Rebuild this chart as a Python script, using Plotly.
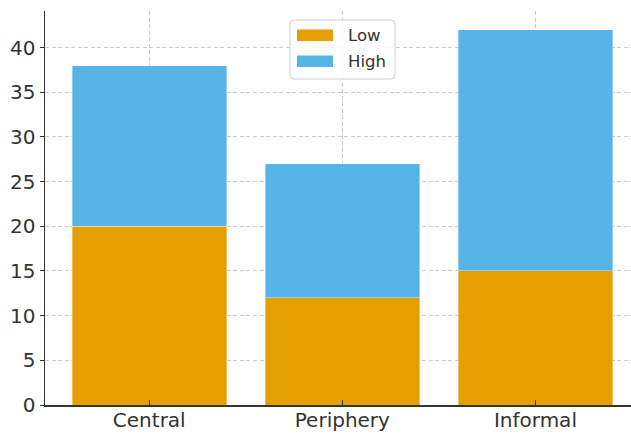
import plotly.graph_objects as go

categories = ["Central", "Periphery", "Informal"]
low_values = [20, 12, 15]
high_values = [18, 15, 27]
series_names = ["Low", "High"]
series_colors = ["#E69F00", "#56B4E9"]
y_ticks = [0, 5, 10, 15, 20, 25, 30, 35, 40]

W, H = 631, 434
ML, MR, MT, MB = 45, 0, 11, 29
PW, PH = W - ML - MR, H - MT - MB

def px_x(p):
    return (p - ML) / PW

def px_y(p):
    return (H - MB - p) / PH

fig = go.Figure()
for name, vals, col in zip(series_names, [low_values, high_values], series_colors):
    fig.add_trace(go.Bar(
        x=list(range(len(categories))), y=vals, name=name,
        marker=dict(color=col, line=dict(color="rgba(255,255,255,0.6)", width=0.6)),
        width=0.8, showlegend=False, hoverinfo="skip",
    ))

font_family = "DejaVu Sans"
grid_dash = "4px,2.5px"
fig.update_layout(
    width=W, height=H,
    margin=dict(l=ML, r=MR, t=MT, b=MB, autoexpand=False),
    barmode="stack",
    plot_bgcolor="white", paper_bgcolor="white",
    font=dict(family=font_family, color="#333333"),
    xaxis=dict(
        range=[-0.54, 2.495], automargin=False,
        tickmode="array", tickvals=list(range(len(categories))), ticktext=categories,
        tickfont=dict(size=20, color="#333333"), ticklabelstandoff=-4,
        showline=True, linecolor="#333333", linewidth=1.5,
        ticks="inside", ticklen=5, tickwidth=1, tickcolor="#333333",
        showgrid=True, gridcolor="#cccccc", griddash=grid_dash, gridwidth=1,
        layer="above traces", zeroline=False,
    ),
    yaxis=dict(
        range=[0, 44.1], automargin=False,
        tickmode="array", tickvals=y_ticks,
        tickfont=dict(size=20, color="#333333"),
        showline=True, linecolor="#333333", linewidth=1.5,
        ticks="outside", ticklen=4, tickwidth=1, tickcolor="#333333",
        showgrid=True, gridcolor="#cccccc", griddash=grid_dash, gridwidth=1,
        layer="above traces", zeroline=False,
    ),
)

# Legend (upper center), drawn manually to match the reference swatches
lx0, lx1, ly0, ly1 = 290, 395, 20, 79
r = 4
x0, x1 = px_x(lx0), px_x(lx1)
y0, y1 = px_y(ly1), px_y(ly0)
rx, ry = r / PW, r / PH
path = (f"M{x0+rx},{y0} L{x1-rx},{y0} Q{x1},{y0} {x1},{y0+ry} L{x1},{y1-ry} "
        f"Q{x1},{y1} {x1-rx},{y1} L{x0+rx},{y1} Q{x0},{y1} {x0},{y1-ry} "
        f"L{x0},{y0+ry} Q{x0},{y0} {x0+rx},{y0} Z")
fig.add_shape(type="path", path=path, xref="paper", yref="paper",
              fillcolor="rgba(255,255,255,0.85)", line=dict(color="#d0d0d0", width=1), layer="above")

rows = [(29.5, 41), (55.5, 67)]
for (t, b), name, col in zip(rows, series_names, series_colors):
    fig.add_shape(type="rect", xref="paper", yref="paper",
                  x0=px_x(297), x1=px_x(333), y0=px_y(b), y1=px_y(t),
                  fillcolor=col, line=dict(width=0), layer="above")
    fig.add_annotation(text=name, xref="paper", yref="paper",
                       x=px_x(346), y=px_y((t + b) / 2), xanchor="left", yanchor="middle",
                       showarrow=False, font=dict(size=16.5, color="#333333", family=font_family))

fig.write_html(
    "out.html",
    config={"displayModeBar": False, "staticPlot": True},
    post_script="document.body.style.margin='0';document.body.style.padding='0';"
                "document.body.style.overflow='hidden';",
)
